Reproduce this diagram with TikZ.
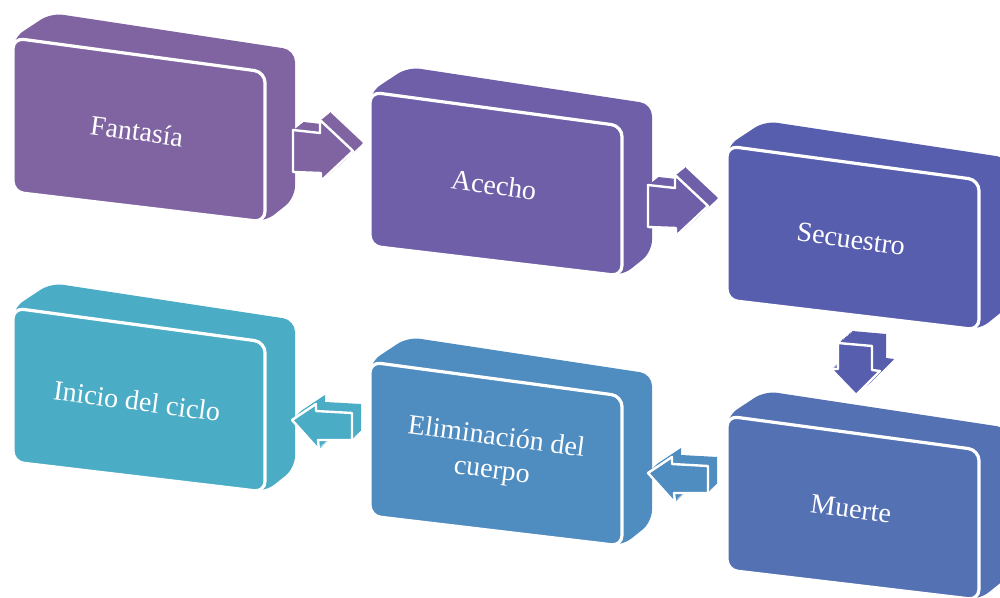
\documentclass[tikz,border=0pt]{standalone}
\usepackage{fontspec}
\setmainfont{Liberation Serif}
\definecolor{cA}{RGB}{128,100,162}
\definecolor{cB}{RGB}{110,95,168}
\definecolor{cC}{RGB}{88,94,174}
\definecolor{cD}{RGB}{84,113,180}
\definecolor{cE}{RGB}{79,140,192}
\definecolor{cF}{RGB}{75,172,198}
\tikzset{
  lbl/.style={text=white, font=\fontsize{21}{25}\selectfont, rotate=-7.6, align=center, inner sep=0pt},
  boxsil/.style={fill=#1, rounded corners=9pt},
  boxface/.style={fill=#1, draw=white, line width=2.4pt, rounded corners=8pt},
  arrline/.style={draw=white, line width=1.8pt, line join=round},
}
% name, X, Y, colour, text
\newcommand\cubebox[5]{%
  \fill[boxsil=#4] (#2,#3) -- ++(38,-25) -- ++(244,37) -- ++(0,148) -- ++(-30,24) -- ++(-252,-30) -- cycle;
  \path[boxface=#4] (#2,#3) -- ++(252,34) -- ++(0,150) -- ++(-252,-30) -- cycle;
  \node[lbl] (#1) at ({#2+124},{#3+93}) {#5};
}
% x, y, dx, dy, colour, polygon
\newcommand\blockarr[6]{%
  \begin{scope}[shift={(#1,#2)}]
    \foreach \t in {0,0.1,0.2,0.3,0.4,0.5,0.6,0.7,0.8,0.9,1} {\fill[#5, shift={({\t*(#3)},{\t*(#4)})}] #6;}
    \path[arrline] #6;
  \end{scope}}
\begin{document}
\begin{tikzpicture}[x=0.75pt,y=-0.75pt]
\useasboundingbox (0,0) rectangle (1000,598);
\clip (0,0) rectangle (1000,598);
\cubebox{fantasia}{13}{38}{cA}{Fantas\'ia}
\cubebox{acecho}{370}{92}{cB}{Acecho}
\cubebox{secuestro}{727}{146}{cC}{Secuestro}
\cubebox{muerte}{727}{416}{cD}{Muerte}
\cubebox{elim}{370}{362}{cE}{Eliminaci\'on del\\cuerpo}
\cubebox{inicio}{13}{308}{cF}{Inicio del ciclo}
% arrows
\blockarr{293}{128}{10}{-8}{cA}{(0,2) -- (27,5) -- (27,-8) -- (60,23) -- (28,53) -- (28,45) -- (0,44) -- cycle}
\blockarr{648}{183}{10}{-8}{cB}{(0,2) -- (27,5) -- (27,-8) -- (60,23) -- (28,53) -- (28,45) -- (0,44) -- cycle}
\blockarr{838}{343}{14}{-12}{cC}{(0,0) -- (34,3) -- (34,27) -- (42,28) -- (18,52) -- (-7,26) -- (0,26) -- cycle}
\blockarr{648}{473}{9}{-9}{cE}{(0,0) -- (24,-16) -- (24,-9) -- (60,-7) -- (60,20) -- (26,20) -- (27,30) -- cycle}
\blockarr{292}{420}{9}{-9}{cF}{(0,0) -- (24,-16) -- (24,-9) -- (60,-7) -- (60,20) -- (26,20) -- (27,30) -- cycle}
\end{tikzpicture}
\end{document}
